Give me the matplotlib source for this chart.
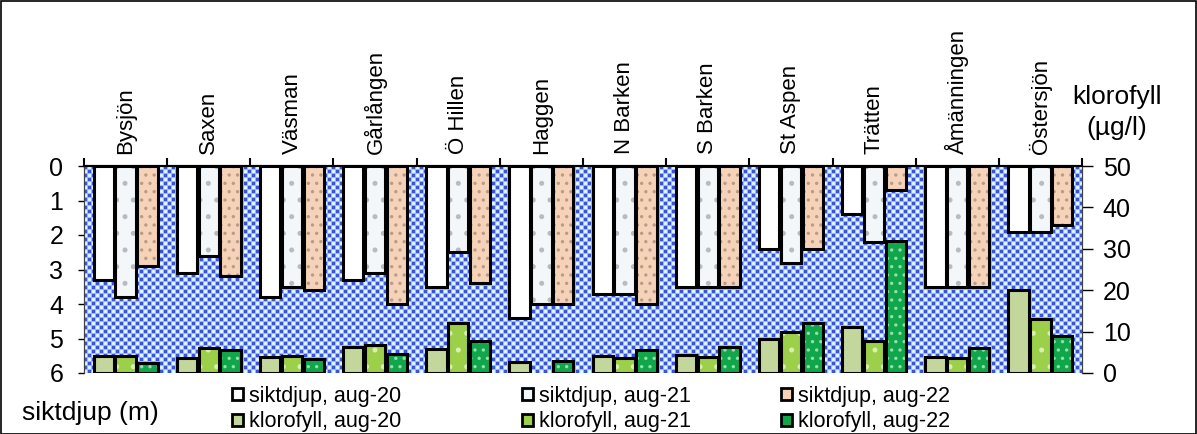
import numpy as np
import matplotlib.pyplot as plt
from matplotlib.patches import Patch, Rectangle

plt.rcParams['font.family'] = ['Liberation Sans', 'DejaVu Sans']
plt.rcParams['hatch.linewidth'] = 1.2

lakes = ['Bysjön', 'Saxen', 'Väsman', 'Gårlången', 'Ö Hillen', 'Haggen',
         'N Barken', 'S Barken', 'St Aspen', 'Trätten', 'Åmänningen', 'Östersjön']

# siktdjup (m)
sikt_20 = [3.3, 3.1, 3.8, 3.3, 3.5, 4.4, 3.7, 3.5, 2.4, 1.4, 3.5, 1.9]
sikt_21 = [3.8, 2.6, 3.5, 3.1, 2.5, 4.0, 3.7, 3.5, 2.8, 2.2, 3.5, 1.9]
sikt_22 = [2.9, 3.2, 3.6, 4.0, 3.4, 4.0, 4.0, 3.5, 2.4, 0.7, 3.5, 1.7]

# klorofyll (ug/l)
klor_20 = [4.1, 3.6, 3.9, 6.3, 5.8, 2.6, 4.1, 4.3, 8.2, 11.1, 3.9, 20.0]
klor_21 = [4.1, 6.0, 4.0, 6.8, 12.0, 0.0, 3.6, 3.9, 9.9, 7.8, 3.6, 13.0]
klor_22 = [2.4, 5.5, 3.4, 4.6, 7.8, 2.9, 5.6, 6.3, 12.0, 32.0, 6.0, 9.0]

W, H = 1197, 434
fig = plt.figure(figsize=(W / 100, H / 100), dpi=100)
ax = fig.add_axes([84 / W, 61 / H, 998 / W, 207 / H])
ax2 = ax.twinx()

# patterned background (blue checker with light circles)
ph, pw = 207, 998
yy, xx = np.mgrid[0:ph, 0:pw]
img = np.empty((ph, pw, 3))
img[:] = [0.62, 0.72, 0.95]
cell = 4
chk = ((xx // cell + yy // cell) % 2 == 0)
inner = (xx % cell < 3) & (yy % cell < 3)
img[chk & inner] = [0.24, 0.32, 0.86]
circ = (~chk) & (xx % cell < 3) & (yy % cell < 3)
img[circ] = [0.84, 0.96, 1.0]
light = (~chk) & (xx % cell == 1) & (yy % cell == 1)
img[light] = [1.0, 1.0, 1.0]
ax.imshow(img, extent=(0, 1, 0, 1), transform=ax.transAxes,
          aspect='auto', interpolation='nearest', zorder=0)

x = np.arange(len(lakes))
bw = 0.245
off = 0.262


def draw(axis, xs, vals, fc, hatch=None, hc=None):
    vals = np.asarray(vals, dtype=float)
    keep = vals > 0
    xs, vals = xs[keep], vals[keep]
    if hatch:
        axis.bar(xs, vals, bw, color=fc, edgecolor=hc, hatch=hatch, lw=0, zorder=2)
    else:
        axis.bar(xs, vals, bw, color=fc, lw=0, zorder=2)
    axis.bar(xs, vals, bw, fill=False, edgecolor='black', lw=2.2, zorder=3)


c_s20, c_s21, c_s22 = 'white', '#f3f7fa', '#f6d3b8'
c_k20, c_k21, c_k22 = '#c3d79c', '#9ccf4a', '#12a64a'

draw(ax, x - off, sikt_20, c_s20)
draw(ax, x, sikt_21, c_s21, '.', '#b8bcc0')
draw(ax, x + off, sikt_22, c_s22, '..', '#b89c88')
draw(ax2, x - off, klor_20, c_k20)
draw(ax2, x, klor_21, c_k21, '.', '#d8f0b0')
draw(ax2, x + off, klor_22, c_k22, '..', '#90e0b0')

ax.set_xlim(-0.5, len(lakes) - 0.5)
ax.set_ylim(6, 0)
ax.set_yticks(range(7))
ax2.set_ylim(0, 50)
ax2.set_yticks(range(0, 51, 10))

ax.xaxis.tick_top()
ax.set_xticks(np.arange(len(lakes) + 1) - 0.5)
ax.set_xticklabels([])
ax.set_xticks(x, minor=True)
ax.set_xticklabels(lakes, minor=True, rotation=90)
ax.tick_params(axis='x', which='major', length=6, width=1.5, direction='out')
ax.tick_params(axis='x', which='minor', length=0, pad=9, labelsize=16)
ax.tick_params(axis='y', length=4, width=1, labelsize=18, pad=11)
ax2.tick_params(axis='y', length=8, width=1, labelsize=18, pad=7)

for a in (ax, ax2):
    a.spines['bottom'].set_visible(False)
    a.spines['top'].set_linewidth(1.5)
    a.spines['left'].set_color('#404040')
    a.spines['right'].set_color('#404040')

fig.text(1117 / W, 1 - 97 / H, 'klorofyll', ha='center', va='center', fontsize=19)
fig.text(1117 / W, 1 - 128 / H, '(µg/l)', ha='center', va='center', fontsize=19)
fig.text(22 / W, 1 - 413 / H, 'siktdjup (m)', ha='left', va='center', fontsize=19)

leg_items = [
    [(c_s20, 'siktdjup, aug-20'), (c_k20, 'klorofyll, aug-20')],
    [(c_s21, 'siktdjup, aug-21'), (c_k21, 'klorofyll, aug-21')],
    [(c_s22, 'siktdjup, aug-22'), (c_k22, 'klorofyll, aug-22')],
]
leg_x = [232, 522, 781]
for lx, items in zip(leg_x, leg_items):
    handles = [Patch(facecolor=fc, edgecolor='black', lw=2, label=lab) for fc, lab in items]
    fig.legend(handles=handles, loc='upper left', bbox_to_anchor=(lx / W, 1 - 386 / H),
               frameon=False, fontsize=15.5, handlelength=0.5, handleheight=0.5,
               handletextpad=0.3, labelspacing=0.2, borderpad=0, borderaxespad=0)

fig.add_artist(Rectangle((0.5 / W, 0.5 / H), 1 - 1.5 / W, 1 - 1.5 / H, transform=fig.transFigure,
                         fill=False, edgecolor='black', lw=1.2))

fig.savefig('out.png', dpi=100)
